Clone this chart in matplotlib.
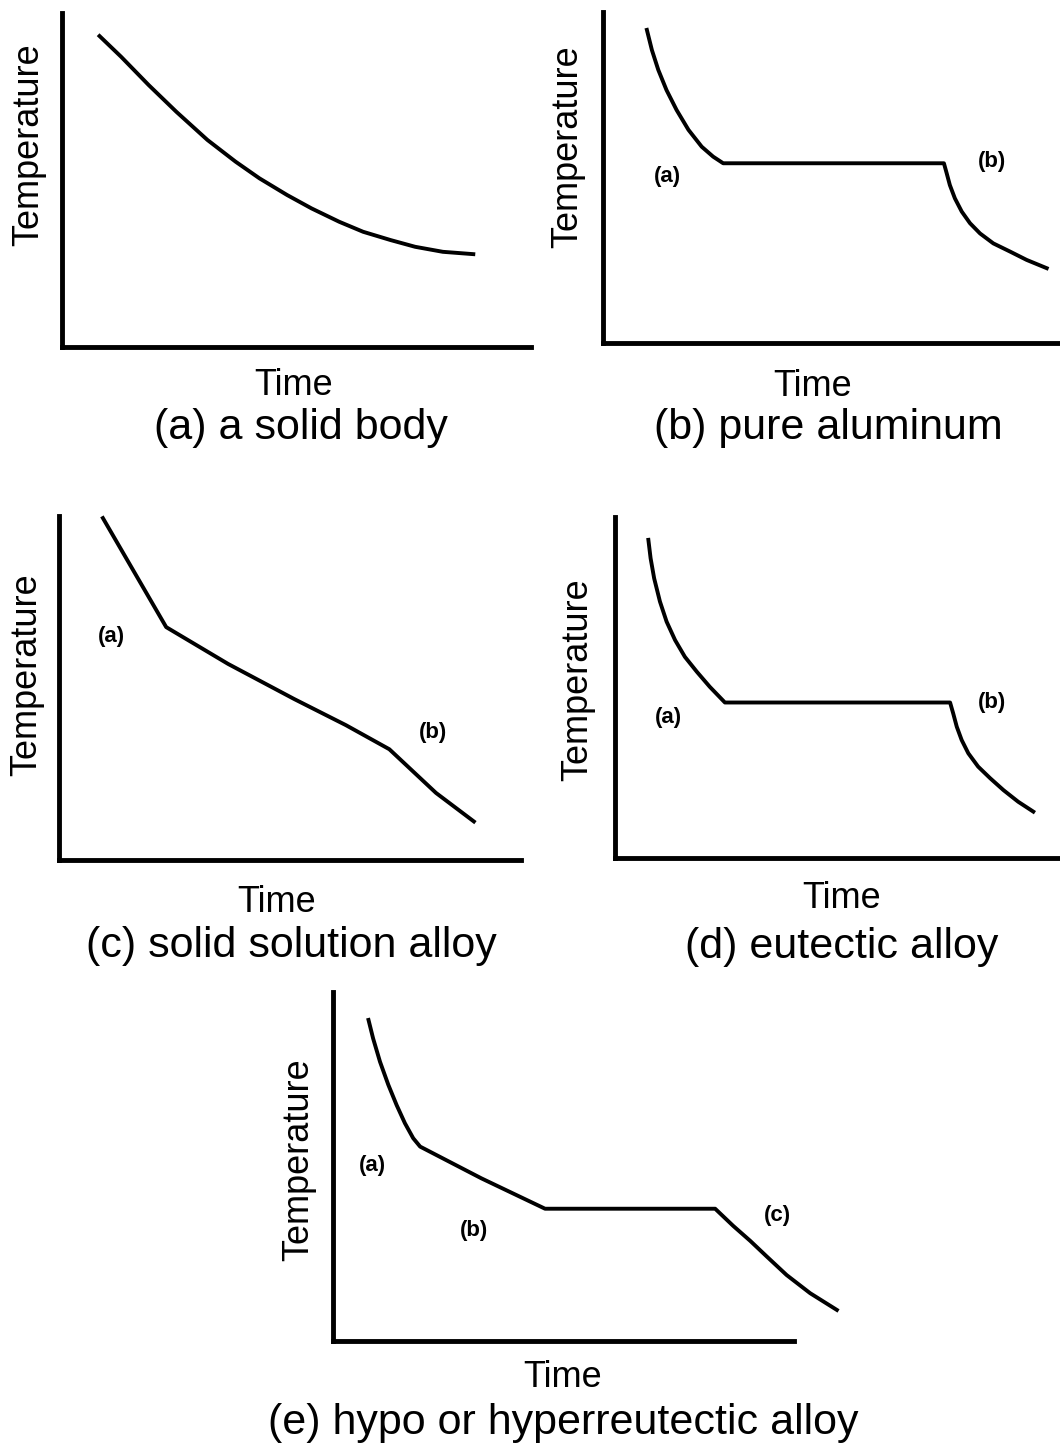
import matplotlib.pyplot as plt

plt.rcParams['font.family'] = ['Liberation Sans', 'DejaVu Sans']

W, H = 1060, 1448

# (a) a solid body - time / temperature in arbitrary units (0-100)
a_time = [8.0, 12.6, 18.5, 24.4, 31.0, 37.0, 42.1, 48.0, 53.2, 59.1, 64.2, 70.1, 75.3, 81.2, 87.7]
a_temp = [93.1, 86.9, 78.4, 70.4, 62.0, 55.5, 50.5, 45.5, 41.5, 37.5, 34.5, 32.0, 30.0, 28.5, 27.8]

# (b) pure aluminum
b_time = [9.6, 10.7, 12.1, 13.9, 16.1, 18.7, 21.6, 24.1, 26.3,
          74.6, 75.2, 75.9, 77.0, 78.5, 80.3, 82.5, 85.4, 89.1, 92.7, 97.1]
b_temp = [94.6, 88.5, 82.5, 76.4, 70.4, 64.4, 59.3, 56.3, 54.3,
          54.3, 51.3, 47.7, 43.7, 39.7, 36.2, 33.1, 30.1, 27.6, 25.1, 22.6]

# (c) solid solution alloy
c_time = [9.5, 23.2, 36.6, 50.9, 62.1, 71.5, 81.6, 89.8]
c_temp = [99.4, 67.7, 57.0, 46.8, 39.2, 32.2, 19.5, 11.2]

# (d) eutectic alloy
d_time = [7.5, 8.0, 8.8, 10.1, 11.6, 13.5, 15.7, 18.4, 21.3, 24.7,
          75.3, 76.0, 76.8, 77.9, 79.4, 81.6, 84.3, 87.3, 90.6, 94.0]
d_temp = [93.3, 87.9, 82.0, 75.2, 69.3, 63.9, 59.0, 54.6, 50.2, 45.6,
          45.6, 42.4, 38.5, 34.6, 30.7, 26.8, 23.4, 19.9, 16.5, 13.6]

# (e) hypo or hypereutectic alloy
e_time = [7.7, 8.7, 10.2, 12.0, 13.8, 15.6, 17.4, 18.9, 32.2, 46.0,
          82.9, 86.8, 90.5, 94.1, 98.4, 103.5, 109.3]
e_temp = [92.0, 86.7, 80.0, 73.4, 67.6, 62.4, 58.1, 55.7, 46.6, 37.9,
          37.9, 33.0, 28.7, 24.2, 18.9, 13.7, 8.9]

captions = ['(a) a solid body', '(b) pure aluminum', '(c) solid solution alloy',
            '(d) eutectic alloy', '(e) hypo or hyperreutectic alloy']

# stage labels: (text, time, temp)
b_marks = [('(a)', 14.2, 50.2), ('(b)', 85.1, 54.7)]
c_marks = [('(a)', 11.3, 64.9), ('(b)', 81.0, 37.1)]
d_marks = [('(a)', 11.9, 41.3), ('(b)', 84.7, 45.7)]
e_marks = [('(a)', 8.5, 50.4), ('(b)', 30.6, 31.8), ('(c)', 96.5, 36.1)]

fig = plt.figure(figsize=(W / 100, H / 100), dpi=100)


def put(x, y, s, size, **kw):
    fig.text(x / W, 1 - y / H, s, ha='center', fontsize=size, color='black', **kw)


def panel(box, time, temp, marks, ylab, xlab, cap, caption):
    left, top, right, bottom = box
    ax = fig.add_axes([left / W, 1 - bottom / H, (right - left) / W, (bottom - top) / H])
    ax.plot(time, temp, color='black', lw=2.8, clip_on=False)
    for txt, t, T in marks:
        ax.text(t, T, txt, ha='center', va='center', fontsize=16, fontweight='bold')
    ax.set_xlim(0, 100)
    ax.set_ylim(0, 100)
    ax.set_xticks([])
    ax.set_yticks([])
    for side in ['top', 'right']:
        ax.spines[side].set_visible(False)
    for side in ['left', 'bottom']:
        ax.spines[side].set_linewidth(3.5)
        ax.spines[side].set_capstyle('projecting')
    put(ylab[0], ylab[1], 'Temperature', 26, va='center', rotation=90)
    put(xlab[0], xlab[1], 'Time', 26, va='baseline')
    put(cap[0], cap[1], caption, 31, va='center')
    return ax


panel((62, 13, 531, 347), a_time, a_temp, [], (29, 145), (294, 395), (301, 428), captions[0])
panel((603, 12, 1060, 343), b_time, b_temp, b_marks, (568, 147), (813, 396), (828, 428), captions[1])
panel((59, 516, 521, 860), c_time, c_temp, c_marks, (27, 675), (277, 912), (291, 946), captions[2])
panel((615, 517, 1060, 858), d_time, d_temp, d_marks, (578, 680), (842, 908), (842, 947), captions[3])
panel((333, 992, 794, 1341), e_time, e_temp, e_marks, (299, 1160), (563, 1387), (563, 1423), captions[4])

fig.savefig('out.png', dpi=100, facecolor='white')
